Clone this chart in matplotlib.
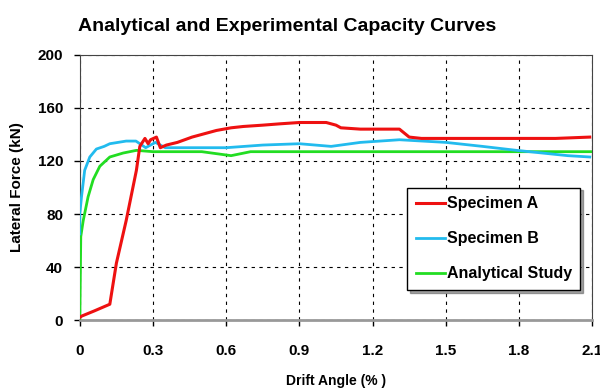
import matplotlib.pyplot as plt

plt.rcParams["font.family"] = ["Liberation Sans", "DejaVu Sans"]
plt.rcParams["font.weight"] = "bold"

# Specimen A (red)
drift_a = [0.0, 0.007, 0.06, 0.123, 0.15, 0.19, 0.232, 0.246, 0.267, 0.28, 0.29,
           0.314, 0.33, 0.355, 0.40, 0.46, 0.52, 0.56, 0.62, 0.67, 0.75, 0.82,
           0.90, 0.98, 1.01, 1.05, 1.07, 1.15, 1.25, 1.31, 1.35, 1.40, 1.50,
           1.65, 1.86, 1.95, 2.09]
force_a = [2, 3, 7, 12, 43, 75, 113, 131, 137, 133, 136, 138, 130, 132, 134,
           138, 141, 143, 145, 146, 147, 148, 149, 149, 149, 147, 145, 144, 144,
           144, 138, 137, 137, 137, 137, 137, 138]

# Specimen B (blue)
drift_b = [0.0, 0.0, 0.007, 0.02, 0.041, 0.068, 0.10, 0.123, 0.19, 0.23, 0.246,
           0.27, 0.31, 0.35, 0.45, 0.6, 0.75, 0.9, 1.03, 1.15, 1.31, 1.5,
           1.65, 1.79, 2.0, 2.09]
force_b = [65, 80, 93, 113, 123, 129, 131, 133, 135, 135, 133, 130, 134, 130,
           130, 130, 132, 133, 131, 134, 136, 134, 131, 128, 124, 123]

# Analytical study (green)
drift_c = [0.0, 0.004, 0.014, 0.034, 0.055, 0.082, 0.123, 0.178, 0.232, 0.3,
           0.4, 0.5, 0.58, 0.62, 0.7, 0.9, 1.2, 1.5, 1.8, 2.1]
force_c = [0, 63, 75, 93, 106, 116, 123, 126, 128, 127, 127, 127, 125, 124,
           127, 127, 127, 127, 127, 127]

x_ticks = [0, 0.3, 0.6, 0.9, 1.2, 1.5, 1.8, 2.1]
x_tick_labels = ["0", "0.3", "0.6", "0.9", "1.2", "1.5", "1.8", "2.1"]
y_ticks = [0, 40, 80, 120, 160, 200]

fig = plt.figure(figsize=(6, 3.89), dpi=100)
ax = fig.add_axes([0.133, 0.177, 0.854, 0.682])

ax.plot(drift_c, force_c, color="#22dd22", lw=2.0, label="Analytical Study", zorder=3)
ax.plot(drift_b, force_b, color="#22bbee", lw=2.0, label="Specimen B", zorder=4)
ax.plot(drift_a, force_a, color="#ee1111", lw=2.2, label="Specimen A", zorder=5)

ax.set_xlim(0, 2.1)
ax.set_ylim(0, 200)
ax.set_xticks(x_ticks)
ax.set_xticklabels(x_tick_labels)
ax.set_yticks(y_ticks)
ax.tick_params(labelsize=11, length=4, width=1)
ax.tick_params(axis="x", pad=13)
ax.tick_params(axis="y", pad=8)
ax.grid(True, color="black", linestyle=(0, (3, 4)), linewidth=0.8)
for side in ["top", "right", "left"]:
    ax.spines[side].set_color("#444444")
ax.spines["bottom"].set_color("#999999")
ax.spines["bottom"].set_linewidth(2)

fig.text(0.478, 0.932, "Analytical and Experimental Capacity Curves",
         fontsize=14, fontweight="bold", ha="center", va="center")
ax.set_xlabel("Drift Angle (% )", fontsize=10, fontweight="bold", labelpad=12)
ax.set_ylabel("Lateral Force (kN)", fontsize=11, fontweight="bold", labelpad=10)

handles, labels = ax.get_legend_handles_labels()
leg = ax.legend(handles[::-1], labels[::-1], loc="lower right",
                bbox_to_anchor=(0.977, 0.113), borderaxespad=0,
                fontsize=11.5, frameon=True, fancybox=False, shadow=True,
                handlelength=1.8, labelspacing=1.25, handletextpad=0.1,
                borderpad=0.55)
leg.get_frame().set_edgecolor("black")
leg.get_frame().set_linewidth(1)

fig.savefig("out.png", dpi=100)
